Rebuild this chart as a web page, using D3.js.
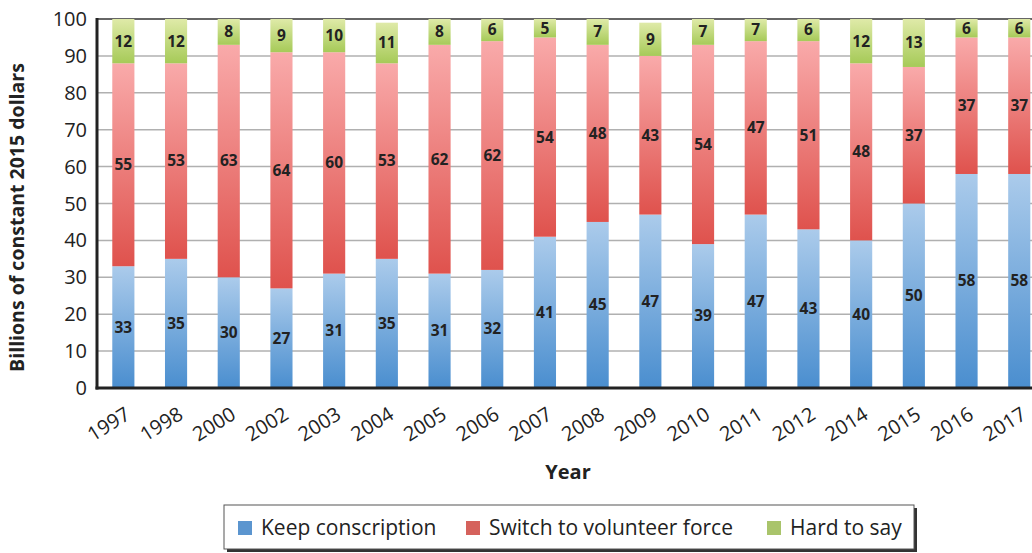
<!DOCTYPE html>
<html>
<head>
<meta charset="utf-8">
<script src="https://cdn.jsdelivr.net/npm/d3@7"></script>
<style>
  body { margin: 0; background: #fff; }
  svg { display: block; font-family: "Open Sans", sans-serif; }
</style>
</head>
<body>
<div id="chart"></div>
<script>
// data
const years = ["1997", "1998", "2000", "2002", "2003", "2004", "2005", "2006", "2007",
  "2008", "2009", "2010", "2011", "2012", "2014", "2015", "2016", "2017"];
const keepConscription = [33, 35, 30, 27, 31, 35, 31, 32, 41, 45, 47, 39, 47, 43, 40, 50, 58, 58];
const switchVolunteer = [55, 53, 63, 64, 60, 53, 62, 62, 54, 48, 43, 54, 47, 51, 48, 37, 37, 37];
const hardToSay = [12, 12, 8, 9, 10, 11, 8, 6, 5, 7, 9, 7, 7, 6, 12, 13, 6, 6];
const yTicks = [0, 10, 20, 30, 40, 50, 60, 70, 80, 90, 100];
const seriesNames = ["Keep conscription", "Switch to volunteer force", "Hard to say"];

const W = 1032, H = 553;
const plot = { left: 97, top: 19, bottom: 388 };
const step = 52.7;

const svg = d3.select("#chart").append("svg")
  .attr("width", W).attr("height", H);

const defs = svg.append("defs");
const grads = [
  { id: "gKeep", top: "#abcbeb", bottom: "#4a8ecf", swatch: "#5b95cf" },
  { id: "gSwitch", top: "#f9aaaa", bottom: "#df524d", swatch: "#d5625c" },
  { id: "gHard", top: "#dfeaa8", bottom: "#a6ca58", swatch: "#a9c46b" }
];
grads.forEach(g => {
  const lg = defs.append("linearGradient").attr("id", g.id)
    .attr("x1", 0).attr("y1", 0).attr("x2", 0).attr("y2", 1);
  lg.append("stop").attr("offset", "0%").attr("stop-color", g.top);
  lg.append("stop").attr("offset", "100%").attr("stop-color", g.bottom);
});
defs.append("clipPath").attr("id", "plotClip")
  .append("rect").attr("x", plot.left).attr("y", plot.top)
  .attr("width", W).attr("height", plot.bottom - plot.top);

const x = d3.scaleBand()
  .domain(years)
  .range([plot.left, plot.left + step * years.length])
  .paddingInner(0.58).paddingOuter(0.29);

const y = d3.scaleLinear().domain([0, 100]).range([plot.bottom, plot.top]);

// gridlines
svg.append("g").selectAll("line")
  .data(yTicks.filter(d => d > 0 && d < 100))
  .join("line")
  .attr("x1", plot.left).attr("x2", W)
  .attr("y1", d => y(d)).attr("y2", d => y(d))
  .attr("stroke", "#b0b0b0").attr("stroke-width", 1.5);

// top border
svg.append("line")
  .attr("x1", plot.left).attr("x2", W)
  .attr("y1", y(100)).attr("y2", y(100))
  .attr("stroke", "#333").attr("stroke-width", 1.5);

// stack data
const rows = years.map((yr, i) => ({
  year: yr, keep: keepConscription[i], sw: switchVolunteer[i], hard: hardToSay[i]
}));
const stack = d3.stack().keys(["keep", "sw", "hard"])(rows);

const bars = svg.append("g").attr("clip-path", "url(#plotClip)");
stack.forEach((layer, li) => {
  bars.append("g").selectAll("rect")
    .data(layer)
    .join("rect")
    .attr("x", d => x(d.data.year))
    .attr("width", x.bandwidth())
    .attr("y", d => y(Math.min(d[1], 100)))
    .attr("height", d => y(d[0]) - y(Math.min(d[1], 100)))
    .attr("fill", `url(#${grads[li].id})`);
});

// value labels
stack.forEach(layer => {
  svg.append("g").selectAll("text")
    .data(layer)
    .join("text")
    .attr("x", d => x(d.data.year) + x.bandwidth() / 2)
    .attr("y", d => (y(d[0]) + y(Math.min(d[1], 100))) / 2)
    .attr("dy", "0.35em")
    .attr("text-anchor", "middle")
    .attr("style", "font-size: 15.5px; font-weight: bold")
    .attr("fill", "#222")
    .text(d => d[1] - d[0]);
});

// axes lines
svg.append("line")
  .attr("x1", plot.left).attr("x2", plot.left)
  .attr("y1", plot.top - 1).attr("y2", plot.bottom + 1.5)
  .attr("stroke", "#222").attr("stroke-width", 3);
svg.append("line")
  .attr("x1", plot.left - 1.5).attr("x2", W)
  .attr("y1", plot.bottom).attr("y2", plot.bottom)
  .attr("stroke", "#222").attr("stroke-width", 3);

// y tick labels
svg.append("g").selectAll("text")
  .data(yTicks)
  .join("text")
  .attr("x", 87)
  .attr("y", d => y(d))
  .attr("dy", "0.35em")
  .attr("text-anchor", "end")
  .attr("style", "font-size: 20px")
  .attr("fill", "#222")
  .text(d => d);

// x tick labels
svg.append("g").selectAll("text")
  .data(years)
  .join("text")
  .attr("text-anchor", "end")
  .attr("style", "font-size: 20px")
  .attr("fill", "#222")
  .attr("transform", d => `translate(${x(d) + x.bandwidth() / 2 + 1},${plot.bottom + 18}) rotate(-32)`)
  .attr("dy", "0.7em")
  .text(d => d);

// axis titles
svg.append("text")
  .attr("transform", `translate(24,${(plot.top + plot.bottom) / 2 + 14}) rotate(-90)`)
  .attr("text-anchor", "middle")
  .attr("style", "font-size: 19.5px; font-weight: bold")
  .attr("fill", "#222")
  .text("Billions of constant 2015 dollars");

svg.append("text")
  .attr("x", 568).attr("y", 479)
  .attr("text-anchor", "middle")
  .attr("style", "font-size: 20px; font-weight: bold")
  .attr("fill", "#222")
  .text("Year");

// legend
const lg = svg.append("g");
lg.append("rect").attr("x", 227).attr("y", 508).attr("width", 690).attr("height", 44)
  .attr("fill", "#333");
lg.append("rect").attr("x", 224).attr("y", 505).attr("width", 690).attr("height", 44)
  .attr("fill", "#fff").attr("stroke", "#555").attr("stroke-width", 1);
const legX = [238, 466, 767];
seriesNames.forEach((name, i) => {
  lg.append("rect").attr("x", legX[i]).attr("y", 521).attr("width", 14).attr("height", 14)
    .attr("fill", grads[i].swatch);
  lg.append("text").attr("x", legX[i] + 23).attr("y", 528).attr("dy", "0.35em")
    .attr("style", "font-size: 21px").attr("fill", "#222")
    .text(name);
});
</script>
</body>
</html>
